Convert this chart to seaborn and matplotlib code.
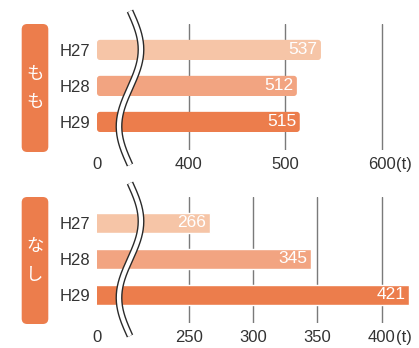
import numpy as np
import pandas as pd
import matplotlib
matplotlib.use("Agg")
import matplotlib.pyplot as plt
from matplotlib.patches import FancyBboxPatch
from matplotlib.lines import Line2D
import seaborn as sns

# Shipment volumes (t) by fiscal year
years = ["H27", "H28", "H29"]
peach = [537, 512, 515]
pear = [266, 345, 421]

peach_ticks = [400, 500, 600]
pear_ticks = [250, 300, 350, 400]
unit = "(t)"

bar_colors = ["#F6C5A7", "#F2A481", "#EC7D4C"]
box_color = "#EC7D4C"
text_color = "#333333"
grid_color = "#7a7a7a"

sns.set_theme(style="white")
plt.rcParams["font.family"] = ["Liberation Sans", "Noto Sans CJK JP", "DejaVu Sans"]

W, H = 419, 348
fig = plt.figure(figsize=(W / 100, H / 100), dpi=100)


def px_axes(x0, y0, x1, y1):
    return fig.add_axes([x0 / W, 1 - y1 / H, (x1 - x0) / W, (y1 - y0) / H])


def panel(ax, values, ticks, xlim, rounded):
    df = pd.DataFrame({"year": years, "value": values})
    sns.barplot(data=df, y="year", x="value", hue="year", palette=bar_colors,
                saturation=1, orient="h", width=0.56, legend=False, ax=ax,
                zorder=2)
    ax.set_xlim(*xlim)
    ax.set_ylim(2.78, -0.72)
    for t in ticks:
        ax.axvline(t, color=grid_color, lw=1.0, zorder=1)
    if rounded:
        # swap the plain bars for ones with softly rounded corners
        bbox = ax.get_window_extent()
        xpu = bbox.width / (xlim[1] - xlim[0])
        ypu = bbox.height / 3.5
        for p in list(ax.patches):
            x0 = xlim[0]
            w = p.get_x() + p.get_width() - x0
            y, h = p.get_y(), p.get_height()
            r = 3.0 / xpu
            fb = FancyBboxPatch((x0, y), w, h,
                                boxstyle=f"round,pad=0,rounding_size={r}",
                                mutation_aspect=xpu / ypu,
                                facecolor=p.get_facecolor(), edgecolor="none",
                                zorder=2)
            p.remove()
            ax.add_patch(fb)
    for i, v in enumerate(values):
        ax.annotate(str(v), (v, i), xytext=(-2.5, 0), textcoords="offset points",
                    ha="right", va="center", color="white", fontsize=12.5,
                    zorder=5)
    ax.set_xticks([xlim[0]] + ticks)
    ax.set_xticklabels(["0"] + [str(t) for t in ticks])
    ax.annotate(unit, (ticks[-1], 0), xycoords=("data", "axes fraction"),
                xytext=(10, -4.7), textcoords="offset points",
                ha="left", va="top", fontsize=12, color=text_color)
    ax.tick_params(axis="both", length=0, labelsize=12, colors=text_color)
    ax.tick_params(axis="x", pad=4.7)
    ax.tick_params(axis="y", pad=5)
    ax.set_xlabel("")
    ax.set_ylabel("")
    for s in ax.spines.values():
        s.set_visible(False)
    ax.patch.set_alpha(0)


ax1 = px_axes(97, 24, 419, 150)
panel(ax1, peach, peach_ticks, (304.5, 638.8), True)

ax2 = px_axes(97, 197, 419, 323)
panel(ax2, pear, pear_ticks, (178.4, 429.0), False)


def label_box(y0, y1, chars):
    x0, x1 = 21.7, 48.3
    box = FancyBboxPatch((x0 / W, 1 - y1 / H), (x1 - x0) / W, (y1 - y0) / H,
                         boxstyle="round,pad=0,rounding_size=0.013",
                         mutation_aspect=W / H,
                         transform=fig.transFigure, facecolor=box_color,
                         edgecolor="none")
    fig.patches.append(box)
    yc = (y0 + y1) / 2
    for k, ch in enumerate(chars):
        yy = yc + (k - 0.5) * 28.5
        fig.text(35 / W, 1 - yy / H, ch, ha="center", va="center",
                 color="white", fontsize=12.5,
                 family=["Noto Sans CJK JP", "DejaVu Sans"])


label_box(24, 152, "もも")
label_box(197, 324, "なし")


def axis_break(ytop, ybot, xc=130.0, amp=11.0):
    yy = np.linspace(ytop, ybot, 200)
    xx = xc + amp * np.sin(2 * np.pi * (yy - ytop) / (ybot - ytop))
    fx, fy = xx / W, 1 - yy / H
    fig.lines.append(Line2D(fx, fy, transform=fig.transFigure, color="#2a2a2a",
                            lw=5.0, solid_capstyle="butt", zorder=10))
    fig.lines.append(Line2D(fx, fy, transform=fig.transFigure, color="white",
                            lw=3.0, solid_capstyle="butt", zorder=11))


axis_break(11, 165)
axis_break(183, 336)

fig.savefig("out.png", dpi=100)
